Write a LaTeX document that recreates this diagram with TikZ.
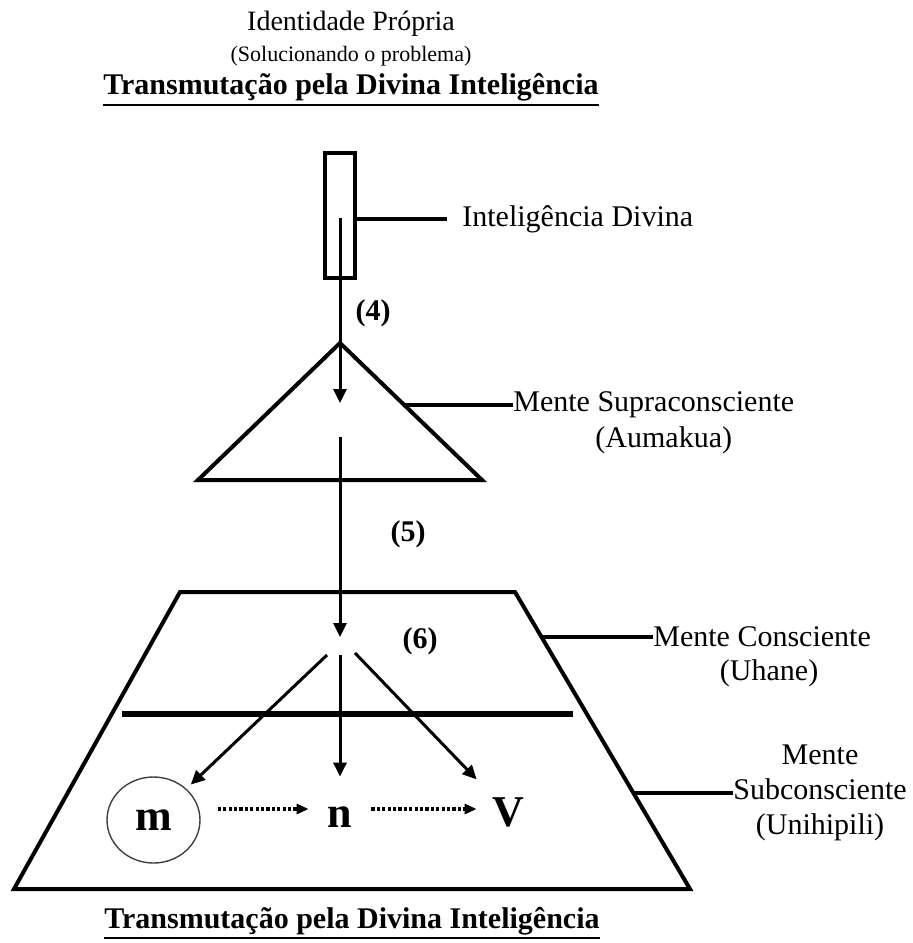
\documentclass[tikz,border=0pt]{standalone}
\usepackage{fontspec}
\setmainfont{Liberation Serif}
\usetikzlibrary{arrows.meta,positioning,shapes.geometric}

\tikzset{
  shapeline/.style={line width=2pt, line join=miter},
  conn/.style={line width=2.4pt},
  flow/.style={line width=1.5pt, -{Triangle[length=7pt,width=6.5pt]}},
  dotflow/.style={line width=2.2pt, dash pattern=on 1.6pt off 1.1pt, -{Triangle[length=6pt,width=5pt]}},
  lbl/.style={inner sep=0pt, font=\fontsize{15}{17.5}\selectfont},
  num/.style={inner sep=0pt, font=\fontsize{15}{18}\selectfont\bfseries},
  letter/.style={inner sep=0pt, minimum width=31pt, minimum height=40pt, font=\fontsize{22}{26}\selectfont\bfseries},
  ttl/.style={inner sep=0pt, font=\fontsize{15}{18}\selectfont\bfseries},
}

\begin{document}
\begin{tikzpicture}[x=0.5pt, y=-0.5pt]
    \useasboundingbox (0,0) rectangle (913,943);

    % titulo de cima
    \node[lbl, font=\fontsize{14}{17}\selectfont, anchor=base] (ident) at (351,30) {Identidade Própria};
    \node[lbl, font=\fontsize{11}{13}\selectfont, anchor=base] (solu) at (351,61) {(Solucionando o problema)};
    \node[ttl, anchor=base] (toptitle) at (351,94) {Transmutação pela Divina Inteligência};
    \draw[line width=1pt] ([yshift=-5.5pt]toptitle.base west) -- ([yshift=-5.5pt]toptitle.base east);

    % Inteligencia Divina
    \node[draw, line width=2.4pt, minimum width=15pt, minimum height=62.5pt, inner sep=0pt] (box) at (340,215.5) {};
    \coordinate (src) at (340,218);
    \node[lbl, anchor=west] (divlbl) at (462,219) {Inteligência Divina};
    \draw[conn, shorten >=7.5pt] (box.east |- divlbl.west) -- (divlbl.west);
    \node[num, anchor=base] (four) at (373,320) {(4)};

    % supraconsciente
    \draw[shapeline] (340,343) -- (482,480) -- (198,480) -- cycle;
    \coordinate (supra) at (340,403);
    \coordinate (supraout) at (340,437);
    \coordinate (triedge) at (404,405);
    \node[lbl, anchor=west] (suplbl) at (513,405) {Mente Supraconsciente};
    \node[lbl, below=4pt of suplbl, xshift=5pt] (aumakua) {(Aumakua)};
    \draw[conn] (triedge) -- (suplbl.west);
    \node[num, anchor=base] (five) at (408,541) {(5)};

    % consciente / subconsciente
    \draw[shapeline] (180,592) -- (515,592) -- (690,889) -- (14,889) -- cycle;
    \draw[line width=2.8pt] (122,714) -- (573,714);
    \coordinate (cons) at (340,637);
    \coordinate (consedge) at (541.5,637);
    \coordinate (subedge) at (633.4,793);
    \node[lbl, anchor=west] (conslbl) at (653,637) {Mente Consciente};
    \node[lbl, below=6pt of conslbl, xshift=3.5pt] (uhane) {(Uhane)};
    \node[lbl, anchor=west, align=center] (sublbl) at (733,793) {Mente\\Subconsciente\\(Unihipili)};
    \draw[conn] (consedge) -- (conslbl.west);
    \draw[conn] (subedge) -- (sublbl.west);
    \node[num, anchor=base] (six) at (420,648) {(6)};

    % m n V
    \node[ellipse, draw=black!75, line width=0.7pt, minimum width=46.5pt, minimum height=43pt, inner sep=0pt,
          font=\fontsize{22}{26}\selectfont\bfseries] (m) at (153.5,820) {m};
    \node[letter] (n) at (340,817) {n};
    \node[letter] (V) at (508,812) {V};
    \coordinate (splitl) at (327,655);
    \coordinate (splitc) at (340,655);
    \coordinate (splitr) at (355,653);

    \draw[flow] (src) -- (supra);
    \draw[flow] (supraout) -- (cons);
    \draw[flow, shorten >=3pt] (splitl) -- (m);
    \draw[flow] (splitc) -- (n);
    \draw[flow] (splitr) -- (V);
    \draw[dotflow, shorten <=8.5pt] ([yshift=4pt]n.west -| m.east) -- ([yshift=4pt]n.west);
    \draw[dotflow] ([yshift=4pt]n.east) -- ([yshift=4pt]n.east -| V.west);

    % titulo de baixo
    \node[ttl, anchor=base] (bottitle) at (352,928) {Transmutação pela Divina Inteligência};
    \draw[line width=1pt] ([yshift=-5pt]bottitle.base west) -- ([yshift=-5pt]bottitle.base east);
\end{tikzpicture}
\end{document}
